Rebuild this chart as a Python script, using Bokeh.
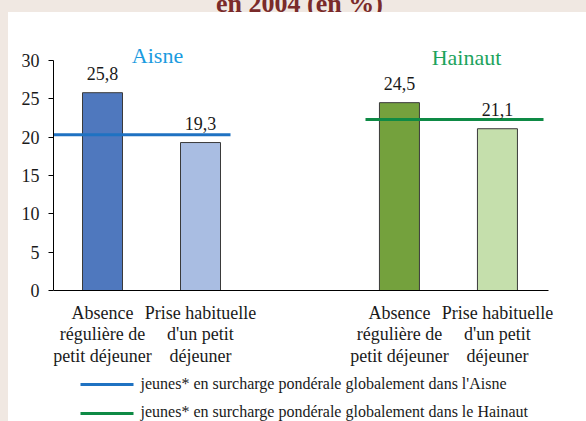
from bokeh.plotting import figure
from bokeh.models import Range1d, ColumnDataSource, LinearAxis, FixedTicker, Div
from bokeh.layouts import column, row
from bokeh.core.properties import value
from bokeh.embed import file_html
from bokeh.resources import INLINE

# ---- data ----
regions = ["Aisne", "Hainaut"]
categories = ["Absence\nrégulière de\npetit déjeuner", "Prise habituelle\nd'un petit\ndéjeuner"]
aisne_values = [25.8, 19.3]
hainaut_values = [24.5, 21.1]
aisne_labels = ["25,8", "19,3"]
hainaut_labels = ["24,5", "21,1"]
aisne_mean = 20.3
hainaut_mean = 22.3
y_ticks = [0, 5, 10, 15, 20, 25, 30]
legend_labels = ["jeunes* en surcharge pondérale globalement dans l'Aisne",
                 "jeunes* en surcharge pondérale globalement dans le Hainaut"]
title_text = "en 2004 (en %)"

# ---- style ----
SERIF = "Liberation Serif"
aisne_colors = ["#4f78be", "#a9bde2"]
hainaut_colors = ["#74a13d", "#c5dfac"]
aisne_line = "#1f72c2"
hainaut_line = "#0e8a45"
aisne_title_col = "#1a9be0"
hainaut_title_col = "#1ca35c"
beige = "#f0e8e2"

TOTAL_W, TOTAL_H = 586, 421
TOP, LEFT = 12, 8
W, H = TOTAL_W - LEFT, TOTAL_H - TOP
AX = 53            # page x of the y axis
Y0 = 290           # page y of value 0
PX = 230 / 30.0    # pixels per unit on y
UX = 98.0          # pixels per unit on x

def rx(px):
    return -0.5 + (px - AX) / UX

def ry(py):
    return (Y0 - py) / PX

p = figure(width=W, height=H, output_backend="svg", toolbar_location=None,
           x_range=Range1d(rx(AX), rx(TOTAL_W)), y_range=Range1d(ry(TOTAL_H), ry(TOP)),
           min_border_left=AX - LEFT, min_border_right=0, min_border_top=0, min_border_bottom=0,
           x_axis_location=None, y_axis_location=None)
p.xgrid.visible = False
p.ygrid.visible = False
p.outline_line_color = None
p.background_fill_color = "white"
p.border_fill_color = "white"

# y axis
yax = LinearAxis(bounds=(0, 30), ticker=FixedTicker(ticks=y_ticks))
yax.axis_line_color = "black"
yax.major_tick_line_color = "black"
yax.major_tick_out = 5
yax.major_tick_in = 0
yax.minor_tick_line_color = None
yax.major_label_text_font = SERIF
yax.major_label_text_font_size = "18px"
yax.major_label_text_color = "#1a1a1a"
yax.major_label_standoff = 9
p.add_layout(yax, "left")

# positions
group_off = [0.0, 3.03]
aisne_x = [group_off[0] + i for i in range(2)]
hainaut_x = [group_off[1] + i for i in range(2)]
bw = 40 / UX

# bars
src = ColumnDataSource(dict(x=aisne_x + hainaut_x,
                            top=aisne_values + hainaut_values,
                            color=aisne_colors + hainaut_colors,
                            lab=aisne_labels + hainaut_labels,
                            cat=categories + categories))
p.vbar(x="x", top="top", bottom=0, width=bw, fill_color="color",
       line_color="#3a3a3a", line_width=1, source=src)

# x axis line
p.segment(x0=[rx(AX)], x1=[rx(548)], y0=[0], y1=[0], line_color="black", line_width=1)

# mean lines
p.segment(x0=[rx(AX)], x1=[rx(230)], y0=[aisne_mean], y1=[aisne_mean],
          line_color=aisne_line, line_width=3)
p.segment(x0=[rx(365)], x1=[rx(543)], y0=[hainaut_mean], y1=[hainaut_mean],
          line_color=hainaut_line, line_width=3)

# value labels
p.text(x="x", y="top", text="lab", source=src, text_font=value(SERIF),
       text_font_size="18px", text_color="#1a1a1a", text_align="center",
       text_baseline="bottom", y_offset=-13)

# category labels
p.text(x="x", y=ry(302), text="cat", source=src, text_font=value(SERIF),
       text_font_size="18px", text_color="#1a1a1a", text_align="center",
       text_baseline="top", text_line_height=1.08)

# region titles
p.text(x=[rx(157), rx(466)], y=[ry(55), ry(57.3)], text=regions,
       text_font=value(SERIF), text_font_size="22px",
       text_color=[aisne_title_col, hainaut_title_col],
       text_align="center", text_baseline="alphabetic")

# legend (manual)
ly = [ry(384), ry(413)]
p.segment(x0=[rx(80)] * 2, x1=[rx(133)] * 2, y0=ly, y1=ly,
          line_color=[aisne_line, hainaut_line], line_width=3)
p.text(x=[rx(140)] * 2, y=[ry(383), ry(411)],
       text=legend_labels, text_font=value(SERIF), text_font_size="16px",
       text_color="#1a1a1a", text_align="left", text_baseline="middle")

# beige frame strips and cut-off title
title_div = Div(
    text=('<div style="margin:0;margin-top:-12px;margin-left:216px;line-height:26px;'
          'white-space:nowrap;font-family:\'Liberation Serif\';font-weight:bold;'
          'font-size:26px;color:#7a2a2a;">' + title_text + '</div>'),
    width=TOTAL_W, height=TOP,
    styles={"background-color": beige, "overflow": "hidden", "margin": "0", "padding": "0"})
left_div = Div(text="", width=LEFT, height=H,
               styles={"background-color": beige, "margin": "0", "padding": "0"})

layout = column(title_div, row(left_div, p, spacing=0), spacing=0)

open("out.html", "w").write(file_html(layout, INLINE))
